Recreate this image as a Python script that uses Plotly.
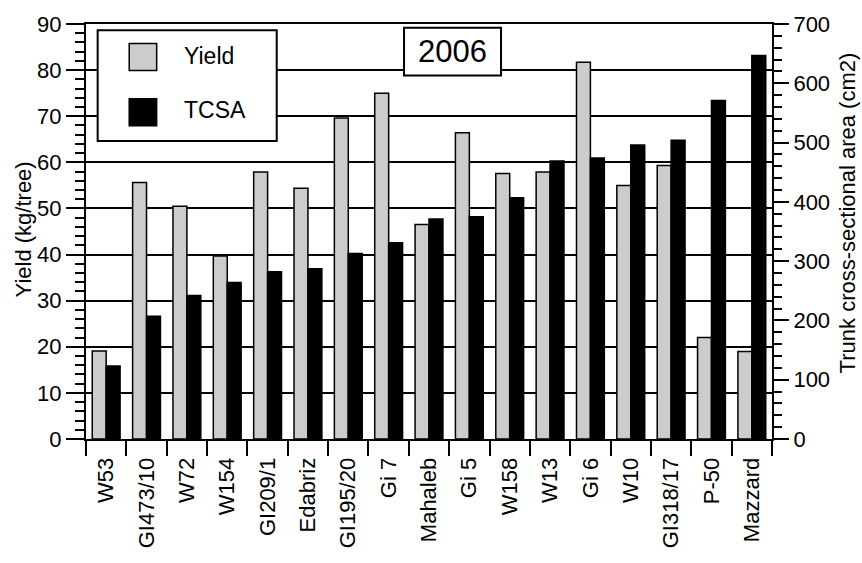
import plotly.graph_objects as go

# Rootstock trial, season 2006
rootstocks = ["W53", "GI473/10", "W72", "W154", "GI209/1", "Edabriz", "GI195/20",
              "Gi 7", "Mahaleb", "Gi 5", "W158", "W13", "Gi 6", "W10", "GI318/17",
              "P-50", "Mazzard"]
yield_kg = [19.1, 55.6, 50.5, 39.7, 57.9, 54.4, 69.6, 75.0, 46.5, 66.4, 57.6, 57.9,
            81.7, 55.0, 59.3, 22.0, 19.0]
tcsa_cm2 = [123, 207, 242, 264, 282, 287, 313, 331, 371, 375, 407, 469, 474, 496,
            504, 571, 647]

yield_ticks = list(range(0, 91, 10))
tcsa_ticks = list(range(0, 701, 100))

series_names = ["Yield", "TCSA"]
series_colors = ["#cccccc", "#000000"]
year_label = "2006"
left_title = "Yield (kg/tree)"
right_title = "Trunk cross-sectional area (cm2)"

FONT = "Liberation Sans, Arial, sans-serif"
BAR_W = 0.345

fig = go.Figure()
fig.add_trace(go.Bar(
    x=rootstocks, y=yield_kg, name=series_names[0], yaxis="y",
    width=BAR_W, offset=-BAR_W,
    marker=dict(color=series_colors[0], line=dict(color="black", width=1.5)),
    showlegend=False,
))
fig.add_trace(go.Bar(
    x=rootstocks, y=tcsa_cm2, name=series_names[1], yaxis="y2",
    width=BAR_W, offset=0,
    marker=dict(color=series_colors[1], line=dict(color="black", width=1.5)),
    showlegend=False,
))

tick_font = dict(family=FONT, size=22, color="black")

fig.update_layout(
    width=862, height=563,
    margin=dict(l=86, r=90, t=18, b=124, pad=0),
    plot_bgcolor="white", paper_bgcolor="white",
    barmode="group",
    font=dict(family=FONT, color="black"),
    xaxis=dict(
        type="category", tickangle=-90, tickfont=tick_font, ticklabelstandoff=8,
        showline=True, linecolor="black", linewidth=2, mirror=True,
        ticks="outside", tickson="boundaries", ticklen=15, tickwidth=2,
        tickcolor="black", showgrid=False,
    ),
    yaxis=dict(
        range=[0, 90], tickvals=yield_ticks, tickfont=tick_font,
        showline=True, linecolor="black", linewidth=2,
        ticks="outside", ticklen=18, tickwidth=2, tickcolor="black",
        showgrid=True, gridcolor="black", gridwidth=1.5, zeroline=False,
        minor=dict(dtick=2, ticks="outside", ticklen=9, tickwidth=1.5,
                   tickcolor="black", showgrid=False),
    ),
    yaxis2=dict(
        range=[0, 700], tickvals=tcsa_ticks, tickfont=tick_font,
        overlaying="y", side="right",
        showline=True, linecolor="black", linewidth=2,
        ticks="outside", ticklen=15, tickwidth=2, tickcolor="black",
        showgrid=False, zeroline=False,
        minor=dict(dtick=20, ticks="outside", ticklen=8, tickwidth=1.5,
                   tickcolor="black", showgrid=False),
    ),
)

# Axis titles
fig.add_annotation(text=left_title, xref="paper", yref="paper", x=-0.0918, y=0.505,
                   xanchor="center", yanchor="middle", textangle=-90, showarrow=False,
                   font=dict(family=FONT, size=22, color="black"))
fig.add_annotation(text=right_title, xref="paper", yref="paper", x=1.1093, y=0.546,
                   xanchor="center", yanchor="middle", textangle=-90, showarrow=False,
                   font=dict(family=FONT, size=22, color="black"))

# Year box
fig.add_shape(type="rect", xref="paper", yref="paper", x0=0.4636, x1=0.6050,
              y0=0.8757, y1=0.991, line=dict(color="black", width=2),
              fillcolor="white", layer="above")
fig.add_annotation(text=year_label, xref="paper", yref="paper", x=0.5343, y=0.9335,
                   xanchor="center", yanchor="middle", showarrow=False,
                   font=dict(family=FONT, size=31, color="black"))

# Legend box with large swatches
fig.add_shape(type="rect", xref="paper", yref="paper", x0=0.017, x1=0.278,
              y0=0.718, y1=0.985, line=dict(color="black", width=2),
              fillcolor="white", layer="above")
swatch_y = [(0.888, 0.953), (0.755, 0.820)]
text_y = [0.924, 0.792]
for name, color, (sy0, sy1), ty in zip(series_names, series_colors, swatch_y, text_y):
    fig.add_shape(type="rect", xref="paper", yref="paper", x0=0.063, x1=0.103,
                  y0=sy0, y1=sy1, line=dict(color="black", width=1.5),
                  fillcolor=color, layer="above")
    fig.add_annotation(text=name, xref="paper", yref="paper", x=0.1404, y=ty,
                       xanchor="left", yanchor="middle", showarrow=False,
                       font=dict(family=FONT, size=23, color="black"))

fig.write_html("out.html")
